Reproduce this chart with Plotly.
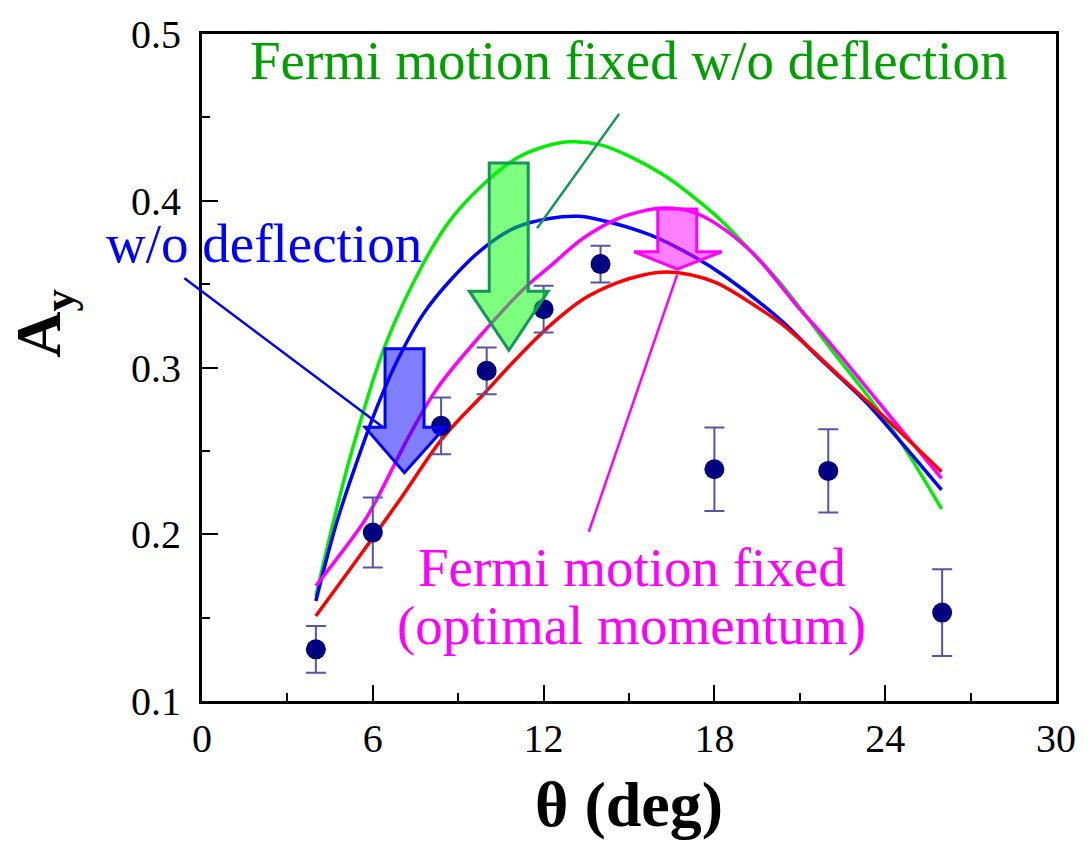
import plotly.graph_objects as go

# Measured analysing power A_y versus scattering angle
theta_data = [4, 6, 8.4, 10, 12, 14, 18, 22, 26]
ay_data = [0.131, 0.201, 0.265, 0.298, 0.335, 0.362, 0.239, 0.238, 0.153]
ay_err = [0.014, 0.021, 0.017, 0.014, 0.014, 0.011, 0.025, 0.025, 0.026]

# Calculated curves
theta_green = [4.0, 4.61, 5.3, 6.43, 7.78, 8.71, 9.88, 11.05, 12.22, 12.93, 14.0, 15.15, 16.3, 17.5, 18.31, 19.36, 20.36, 22.17, 23.35, 24.52, 25.98]
ay_green = [0.163, 0.207, 0.252, 0.313, 0.3625, 0.3881, 0.4097, 0.4255, 0.4334, 0.4354, 0.4335, 0.4256, 0.4145, 0.399, 0.387, 0.3684, 0.3497, 0.3093, 0.2838, 0.256, 0.2152]

theta_blue = [4.0, 4.73, 5.37, 6.14, 6.84, 7.77, 8.71, 9.88, 11.05, 12.2, 13.2, 14.0, 15.74, 17.38, 18.37, 20.36, 21.7, 23.35, 24.52, 25.98]
ay_blue = [0.160, 0.207, 0.240, 0.2759, 0.3034, 0.332, 0.352, 0.3715, 0.3842, 0.3894, 0.3907, 0.3885, 0.3795, 0.3655, 0.3547, 0.328, 0.3054, 0.2787, 0.256, 0.2266]

theta_magenta = [4.0, 5.67, 6.13, 7.31, 8.24, 9.88, 11.4, 12.22, 13.39, 14.57, 15.4, 16.2, 17.2, 18.08, 19.36, 21.0, 21.94, 24.4, 25.98]
ay_magenta = [0.169, 0.207, 0.2207, 0.260, 0.287, 0.3211, 0.3487, 0.3606, 0.3775, 0.389, 0.3935, 0.3956, 0.3935, 0.386, 0.3684, 0.335, 0.317, 0.266, 0.2335]

theta_red = [4.0, 5.5, 6.95, 8.48, 9.88, 11.05, 12.22, 13.39, 14.57, 15.5, 16.3, 17.2, 18.08, 19.36, 20.36, 21.36, 22.41, 23.93, 25.98]
ay_red = [0.151, 0.186, 0.2207, 0.2582, 0.2838, 0.3054, 0.3251, 0.3409, 0.3507, 0.3555, 0.3572, 0.3555, 0.3507, 0.3378, 0.3261, 0.3113, 0.2946, 0.2709, 0.2375]

# Block arrows: shaft left/right, top, neck, head left/right, tip (x, y)
arrow_blue = dict(x0=6.43, x1=7.80, top=0.3113, neck=0.2641, h0=5.73, h1=8.54, tx=7.11, ty=0.2369)
arrow_green = dict(x0=10.09, x1=11.46, top=0.4226, neck=0.3458, h0=9.39, h1=12.16, tx=10.78, ty=0.3103)
arrow_magenta = dict(x0=16.01, x1=17.38, top=0.395, neck=0.3694, h0=15.18, h1=18.26, tx=16.70, ty=0.359)

FONT = "Liberation Serif, Times New Roman, serif"

fig = go.Figure()

for xs, ys, col in [
    (theta_green, ay_green, "#00ee00"),
    (theta_blue, ay_blue, "#0000ff"),
    (theta_magenta, ay_magenta, "#ff00ff"),
    (theta_red, ay_red, "#ff0000"),
]:
    fig.add_trace(go.Scatter(x=xs, y=ys, mode="lines",
                             line=dict(color=col, width=3.5, shape="spline", smoothing=1.0),
                             showlegend=False, hoverinfo="skip"))

fig.add_trace(go.Scatter(
    x=theta_data, y=ay_data, mode="markers",
    marker=dict(color="#000080", size=20),
    error_y=dict(type="data", array=ay_err, visible=True, color="#5555a5",
                 thickness=2, width=10),
    showlegend=False,
))


def arrow_path(a):
    pts = [(a["x0"], a["top"]), (a["x1"], a["top"]), (a["x1"], a["neck"]),
           (a["h1"], a["neck"]), (a["tx"], a["ty"]), (a["h0"], a["neck"]),
           (a["x0"], a["neck"])]
    return "M " + " L ".join(f"{x},{y}" for x, y in pts) + " Z"


for a, fill, edge in [
    (arrow_blue, "rgba(0,0,255,0.5)", "#0000ff"),
    (arrow_green, "rgba(0,255,0,0.5)", "#119955"),
    (arrow_magenta, "rgba(255,0,255,0.5)", "#ff00ff"),
]:
    fig.add_shape(type="path", path=arrow_path(a), xref="x", yref="y",
                  fillcolor=fill, line=dict(color=edge, width=3))

# Pointer lines from labels to curves
pointers = [
    (-0.67, 0.3542, 6.37, 0.2640, "#0000ff"),
    (14.69, 0.4530, 11.77, 0.3835, "#119955"),
    (13.57, 0.2006, 16.69, 0.3556, "#ff00ff"),
]
for x0, y0, x1, y1, col in pointers:
    fig.add_annotation(x=x1, y=y1, ax=x0, ay=y0, xref="x", yref="y", axref="x", ayref="y",
                       text="", showarrow=True, arrowhead=0, arrowwidth=2.5,
                       arrowcolor=col, standoff=0, startstandoff=0)

labels = [
    ("Fermi motion fixed w/o deflection", 15.0, 0.4839, "#00a000"),
    ("w/o deflection", 2.18, 0.3745, "#0000ff"),
    ("Fermi motion fixed", 15.09, 0.1800, "#ff00ff"),
    ("(optimal momentum)", 15.09, 0.1450, "#ff00ff"),
]
for txt, x, y, col in labels:
    fig.add_annotation(x=x, y=y, xref="x", yref="y", text=txt, showarrow=False,
                       font=dict(family=FONT, size=55, color=col),
                       xanchor="center", yanchor="middle")

# Vertical axis title
fig.add_annotation(x=-0.186, y=0.5657, xref="paper", yref="paper",
                   text="<b>A<sub>y</sub></b>", showarrow=False, textangle=-90,
                   font=dict(family=FONT, size=64, color="black"),
                   xanchor="center", yanchor="middle")

fig.update_layout(
    width=1091, height=857,
    margin=dict(l=202, r=35, t=24, b=156),
    paper_bgcolor="white", plot_bgcolor="white",
    font=dict(family=FONT, color="black"),
)
fig.update_xaxes(
    range=[0, 30], tickvals=[0, 6, 12, 18, 24, 30],
    ticks="inside", ticklen=16, tickwidth=2, tickcolor="black",
    minor=dict(tickvals=[3, 9, 15, 21, 27], ticks="inside", ticklen=8, tickwidth=2, tickcolor="black"),
    showline=True, linewidth=3, linecolor="black", mirror=True,
    showgrid=False, zeroline=False,
    tickfont=dict(family=FONT, size=40, color="black"), ticklabelstandoff=0,
    title=dict(text="<b>θ (deg)</b>", font=dict(family=FONT, size=64, color="black"), standoff=22),
)
fig.update_yaxes(
    range=[0.1, 0.5], tickvals=[0.1, 0.2, 0.3, 0.4, 0.5], ticktext=["0.1", "0.2", "0.3", "0.4", "0.5"],
    ticks="inside", ticklen=16, tickwidth=2, tickcolor="black",
    minor=dict(tickvals=[0.15, 0.25, 0.35, 0.45], ticks="inside", ticklen=8, tickwidth=2, tickcolor="black"),
    showline=True, linewidth=3, linecolor="black", mirror=True,
    showgrid=False, zeroline=False,
    tickfont=dict(family=FONT, size=40, color="black"), ticklabelstandoff=10,
)

fig.write_html("out.html")
